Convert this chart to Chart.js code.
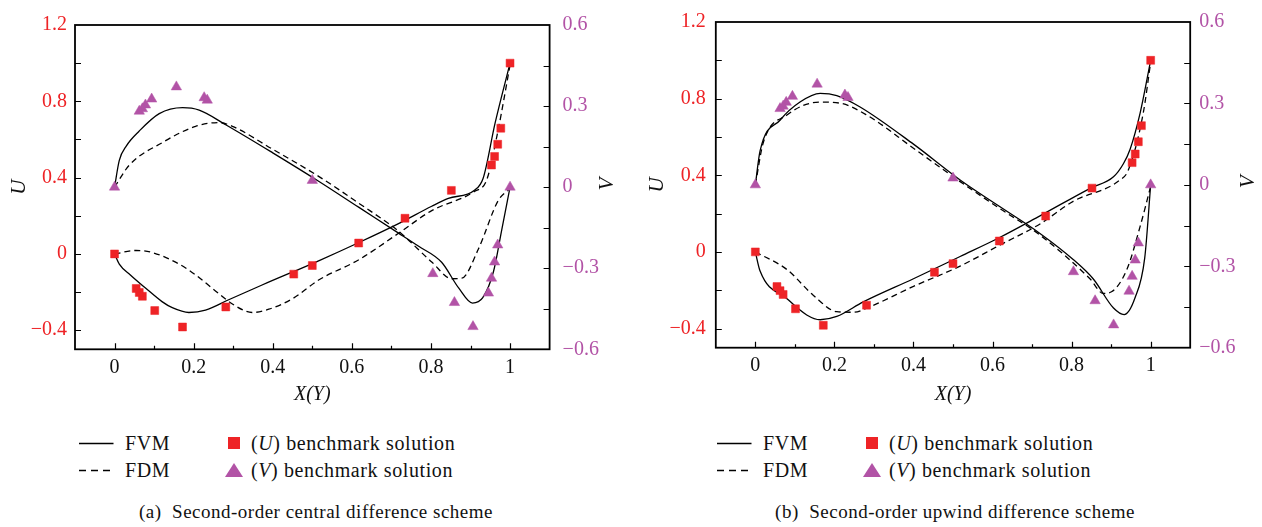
<!DOCTYPE html>
<html>
<head>
<meta charset="utf-8">
<script src="https://cdn.jsdelivr.net/npm/chart.js@4.4.1/dist/chart.umd.min.js"></script>
<style>
  body { margin: 0; width: 1262px; height: 527px; background: #fff; position: relative; overflow: hidden;
         font-family: 'Liberation Serif', serif; color: #111; }
  .panel { position: absolute; top: 0; }
  .legend-text { position: absolute; font-size: 20px; letter-spacing: 0.6px; line-height: 24px; white-space: nowrap; }
  .caption { position: absolute; top: 500px; font-size: 19px; letter-spacing: 0.5px; line-height: 24px; white-space: nowrap; transform: translateX(-50%); }
  svg { position: absolute; overflow: visible; }
</style>
</head>
<body>
<canvas id="chart-a" class="panel" style="left:0" width="631" height="410"></canvas>
<canvas id="chart-b" class="panel" style="left:640px" width="622" height="410"></canvas>

<div id="legend-a"></div>
<div id="legend-b"></div>
<div class="caption" style="left:316px">(a)&nbsp; Second-order central difference scheme</div>
<div class="caption" style="left:955px">(b)&nbsp; Second-order upwind difference scheme</div>

<script>
// axis ticks
const X_TICKS = [0, 0.2, 0.4, 0.6, 0.8, 1];
const U_TICKS = [-0.4, 0, 0.4, 0.8, 1.2];
const V_TICKS = [-0.6, -0.3, 0, 0.3, 0.6];
const X_MINOR = [0.1, 0.3, 0.5, 0.7, 0.9];
const U_MINOR = [-0.2, 0.2, 0.6, 1.0];
const V_MINOR = [-0.45, -0.15, 0.15, 0.45];

// benchmark points (same in both panels)
const BENCH_U_Y = [1, 0.9766, 0.9688, 0.9609, 0.9531, 0.8516, 0.7344, 0.6172, 0.5, 0.4531, 0.2813, 0.1719, 0.1016, 0.0703, 0.0625, 0.0547, 0];
const BENCH_U = [1, 0.659, 0.575, 0.511, 0.466, 0.333, 0.187, 0.057, -0.061, -0.106, -0.278, -0.383, -0.297, -0.222, -0.202, -0.181, 0];
const BENCH_V_X = [1, 0.9688, 0.9609, 0.9531, 0.9453, 0.9063, 0.8594, 0.8047, 0.5, 0.2344, 0.2266, 0.1563, 0.0938, 0.0781, 0.0703, 0.0625, 0];
const BENCH_V = [0, -0.214, -0.277, -0.337, -0.392, -0.516, -0.427, -0.32, 0.025, 0.322, 0.331, 0.371, 0.326, 0.304, 0.29, 0.281, 0];

// (a) central difference
const A_FVM_U_X = [0, 0.012, 0.04, 0.079, 0.12, 0.146, 0.188, 0.23, 0.29, 0.373, 0.516, 0.618, 0.718, 0.802, 0.844, 0.91, 0.932, 0.962, 1];
const A_FVM_U = [0, -0.053, -0.11, -0.18, -0.25, -0.282, -0.307, -0.295, -0.239, -0.163, -0.036, 0.06, 0.159, 0.25, 0.291, 0.334, 0.397, 0.684, 1];
const A_FDM_U_X = [0, 0.054, 0.096, 0.163, 0.205, 0.247, 0.306, 0.348, 0.39, 0.45, 0.516, 0.618, 0.718, 0.802, 0.91, 0.941, 0.97, 1];
const A_FDM_U = [0, 0.018, 0.007, -0.053, -0.11, -0.18, -0.273, -0.307, -0.29, -0.235, -0.137, -0.03, 0.108, 0.227, 0.328, 0.388, 0.651, 0.99];
const A_FVM_V_X = [0, 0.012, 0.03, 0.062, 0.113, 0.172, 0.214, 0.281, 0.4, 0.516, 0.618, 0.718, 0.768, 0.827, 0.87, 0.905, 0.931, 0.958, 0.979, 1];
const A_FVM_V = [0, 0.099, 0.153, 0.207, 0.272, 0.294, 0.285, 0.231, 0.127, 0.022, -0.075, -0.17, -0.218, -0.278, -0.373, -0.429, -0.409, -0.313, -0.158, 0];
const A_FDM_V_X = [0, 0.037, 0.121, 0.205, 0.264, 0.298, 0.4, 0.516, 0.618, 0.718, 0.802, 0.853, 0.878, 0.92, 0.97, 1];
const A_FDM_V = [0, 0.081, 0.165, 0.225, 0.239, 0.225, 0.14, 0.04, -0.06, -0.163, -0.277, -0.339, -0.337, -0.229, -0.05, -0.005];

// (b) upwind difference
const B_FVM_U_X = [0, 0.012, 0.08, 0.13, 0.164, 0.206, 0.273, 0.4, 0.518, 0.618, 0.72, 0.847, 0.906, 0.931, 0.948, 0.973, 1];
const B_FVM_U = [0, -0.1, -0.244, -0.329, -0.354, -0.337, -0.261, -0.14, -0.024, 0.075, 0.188, 0.332, 0.392, 0.46, 0.536, 0.722, 1];
const B_FDM_U_X = [0, 0.08, 0.147, 0.206, 0.248, 0.29, 0.4, 0.518, 0.618, 0.72, 0.804, 0.922, 0.943, 0.981, 1];
const B_FDM_U = [0, -0.092, -0.227, -0.312, -0.315, -0.286, -0.18, -0.074, 0.035, 0.146, 0.264, 0.375, 0.425, 0.722, 0.99];
const B_FVM_V_X = [0, 0.012, 0.063, 0.113, 0.164, 0.206, 0.265, 0.4, 0.518, 0.618, 0.72, 0.804, 0.855, 0.906, 0.933, 0.96, 0.985, 1];
const B_FVM_V = [0, 0.125, 0.239, 0.305, 0.337, 0.329, 0.287, 0.15, 0.018, -0.08, -0.179, -0.275, -0.347, -0.454, -0.478, -0.418, -0.269, 0];
const B_FDM_V_X = [0, 0.02, 0.08, 0.164, 0.214, 0.282, 0.4, 0.518, 0.618, 0.72, 0.847, 0.88, 0.901, 0.94, 0.973, 1];
const B_FDM_V = [0, 0.155, 0.257, 0.305, 0.301, 0.257, 0.135, 0.012, -0.087, -0.185, -0.347, -0.4, -0.394, -0.311, -0.155, -0.006];

const RED = '#ee2326';
const PURPLE = '#b253a6';
const SERIF = "'Liberation Serif', serif";

const toPoints = (xs, ys) => xs.map((x, i) => ({ x, y: ys[i] }));
const fmt = (v) => String(v).replace('-', '\u2212');

// box around the plot, inward tick marks and the V axis title (reads bottom to top)
const frameTicks = {
  id: 'frameTicks',
  afterDatasetsDraw(chart) {
    const { ctx, chartArea: a, scales } = chart;
    ctx.save();
    ctx.strokeStyle = '#000';
    ctx.lineWidth = 1.2;
    ctx.beginPath();
    const vTick = (v, len) => {
      const px = Math.round(scales.x.getPixelForValue(v)) + 0.5;
      ctx.moveTo(px, a.bottom); ctx.lineTo(px, a.bottom - len);
    };
    const lTick = (v, len) => {
      const py = Math.round(scales.u.getPixelForValue(v)) + 0.5;
      ctx.moveTo(a.left, py); ctx.lineTo(a.left + len, py);
    };
    const rTick = (v, len) => {
      const py = Math.round(scales.v.getPixelForValue(v)) + 0.5;
      ctx.moveTo(a.right, py); ctx.lineTo(a.right - len, py);
    };
    X_TICKS.forEach(v => vTick(v, 6));
    X_MINOR.forEach(v => vTick(v, 3.5));
    U_TICKS.slice(0, -1).forEach(v => lTick(v, 6));
    U_MINOR.forEach(v => lTick(v, 6));
    V_TICKS.slice(1, -1).forEach(v => rTick(v, 6));
    V_MINOR.forEach(v => rTick(v, 6));
    ctx.stroke();
    ctx.lineWidth = 1.8;
    ctx.strokeRect(a.left, a.top, a.right - a.left, a.bottom - a.top);

    ctx.translate(a.right + 58, scales.v.getPixelForValue(0) - 3);
    ctx.rotate(-Math.PI / 2);
    ctx.fillStyle = '#111';
    ctx.font = `italic 21px ${SERIF}`;
    ctx.textAlign = 'center';
    ctx.textBaseline = 'middle';
    ctx.fillText('V', 0, 0);
    ctx.restore();
  }
};

const makeChart = (id, p) => {
  const lineSet = (xs, ys, axis, dashed) => ({
    data: toPoints(xs, ys),
    yAxisID: axis,
    showLine: true,
    borderColor: '#000',
    borderWidth: 1.3,
    borderDash: dashed ? [6, 4] : [],
    pointRadius: 0,
    cubicInterpolationMode: 'monotone'
  });
  return new Chart(document.getElementById(id), {
    type: 'scatter',
    data: {
      datasets: [
        {
          data: toPoints(BENCH_U_Y, BENCH_U), yAxisID: 'u',
          pointStyle: 'rect', pointRadius: 5.6, backgroundColor: RED, borderColor: RED, borderWidth: 0.5
        },
        {
          data: toPoints(BENCH_V_X, BENCH_V), yAxisID: 'v',
          pointStyle: 'triangle', pointRadius: 6, backgroundColor: PURPLE, borderColor: PURPLE, borderWidth: 0.5
        },
        lineSet(p.fvmUx, p.fvmU, 'u', false),
        lineSet(p.fdmUx, p.fdmU, 'u', true),
        lineSet(p.fvmVx, p.fvmV, 'v', false),
        lineSet(p.fdmVx, p.fdmV, 'v', true)
      ]
    },
    options: {
      responsive: false,
      animation: false,
      devicePixelRatio: 1,
      layout: { padding: { top: p.top, left: 0, right: 0, bottom: 0 } },
      plugins: { legend: { display: false }, tooltip: { enabled: false } },
      scales: {
        x: {
          type: 'linear', position: 'bottom', min: -0.1, max: 1.1,
          afterBuildTicks: s => { s.ticks = X_TICKS.map(v => ({ value: v })); },
          afterFit: s => { s.height = p.bottomH; },
          grid: { display: false, drawTicks: false },
          border: { display: false },
          ticks: { callback: fmt, color: '#111', padding: 6, font: { family: SERIF, size: 20 } },
          title: { display: true, text: 'X(Y)', color: '#111', padding: { top: 0, bottom: 3 },
                   font: { family: SERIF, size: 20, style: 'italic' } }
        },
        u: {
          type: 'linear', position: 'left', min: -0.5, max: 1.2,
          afterBuildTicks: s => { s.ticks = U_TICKS.map(v => ({ value: v })); },
          afterFit: s => { s.width = p.leftW; },
          grid: { display: false, drawTicks: false },
          border: { display: false },
          ticks: { callback: fmt, color: RED, padding: p.leftPad, font: { family: SERIF, size: 20 } },
          title: { display: true, text: 'U', color: '#111', padding: { top: p.uPad, bottom: 0 },
                   font: { family: SERIF, size: 21, style: 'italic' } }
        },
        v: {
          type: 'linear', position: 'right', min: -0.6, max: 0.6,
          afterBuildTicks: s => { s.ticks = V_TICKS.map(v => ({ value: v })); },
          afterFit: s => { s.width = p.rightW; },
          grid: { display: false, drawTicks: false },
          border: { display: false },
          ticks: { callback: fmt, color: PURPLE, padding: p.rightPad, font: { family: SERIF, size: 20 } },
          title: { display: false }
        }
      }
    },
    plugins: [frameTicks]
  });
};

const makeLegend = (id, x0) => {
  const el = document.getElementById(id);
  el.innerHTML =
    `<svg style="left:${x0}px;top:443px" width="35" height="2"><line x1="0" y1="0.5" x2="34.5" y2="0.5" stroke="#000" stroke-width="1.4"/></svg>` +
    `<svg style="left:${x0}px;top:470px" width="35" height="2"><line x1="0" y1="0.5" x2="34.5" y2="0.5" stroke="#000" stroke-width="1.4" stroke-dasharray="7,5"/></svg>` +
    `<div class="legend-text" style="left:${x0 + 46}px;top:431px">FVM</div>` +
    `<div class="legend-text" style="left:${x0 + 46}px;top:458px">FDM</div>` +
    `<svg style="left:${x0 + 149}px;top:437px" width="12" height="12"><rect x="0" y="0" width="12" height="12" fill="${RED}"/></svg>` +
    `<svg style="left:${x0 + 146}px;top:463px" width="18" height="14"><polygon points="9,0 18,14 0,14" fill="${PURPLE}"/></svg>` +
    `<div class="legend-text" style="left:${x0 + 172}px;top:431px">(<i>U</i>) benchmark solution</div>` +
    `<div class="legend-text" style="left:${x0 + 172}px;top:458px">(<i>V</i>) benchmark solution</div>`;
};

makeChart('chart-a', {
  fvmUx: A_FVM_U_X, fvmU: A_FVM_U, fdmUx: A_FDM_U_X, fdmU: A_FDM_U,
  fvmVx: A_FVM_V_X, fvmV: A_FVM_V, fdmVx: A_FDM_V_X, fdmV: A_FDM_V,
  top: 15, bottomH: 60.7, leftW: 75, rightW: 81.4, leftPad: 8, rightPad: 13, uPad: 7
});
makeChart('chart-b', {
  fvmUx: B_FVM_U_X, fvmU: B_FVM_U, fdmUx: B_FDM_U_X, fdmU: B_FDM_U,
  fvmVx: B_FVM_V_X, fvmV: B_FVM_V, fdmVx: B_FDM_V_X, fdmV: B_FDM_V,
  top: 12.3, bottomH: 62.3, leftW: 75.8, rightW: 71.8, leftPad: 10, rightPad: 9, uPad: 5
});
makeLegend('legend-a', 79);
makeLegend('legend-b', 717);
</script>
</body>
</html>
